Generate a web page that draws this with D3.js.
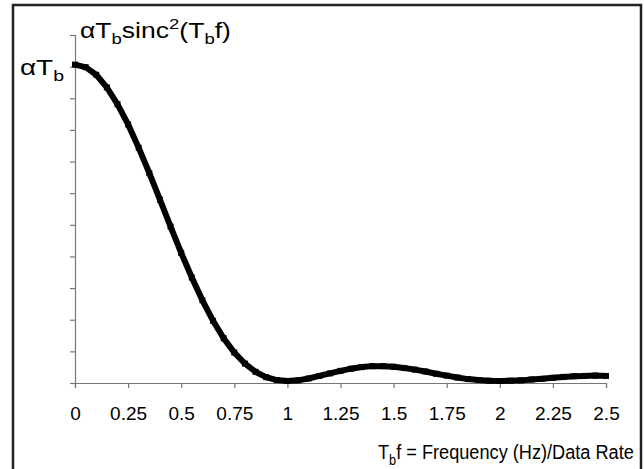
<!DOCTYPE html>
<html>
<head>
<meta charset="utf-8">
<script src="https://cdn.jsdelivr.net/npm/d3@7"></script>
<style>
  body { margin: 0; background: #fff; }
  svg text { font-family: "Liberation Sans", Arial, sans-serif; fill: #000; }
</style>
</head>
<body>
<svg id="chart" width="644" height="469"></svg>
<script>
// normalized frequency T_b f
const freq = [0, 0.05, 0.1, 0.15, 0.2, 0.25, 0.3, 0.35, 0.4, 0.45, 0.5, 0.55, 0.6, 0.65, 0.7,
  0.75, 0.8, 0.85, 0.9, 0.95, 1, 1.05, 1.1, 1.15, 1.2, 1.25, 1.3, 1.35, 1.4, 1.45, 1.5,
  1.55, 1.6, 1.65, 1.7, 1.75, 1.8, 1.85, 1.9, 1.95, 2, 2.05, 2.1, 2.15, 2.2, 2.25, 2.3,
  2.35, 2.4, 2.45, 2.5];
// power spectral density, in units of alpha*T_b
const psd = [1, 0.992, 0.968, 0.928, 0.875, 0.811, 0.737, 0.657, 0.573, 0.488, 0.405, 0.327,
  0.255, 0.190, 0.135, 0.090, 0.055, 0.029, 0.012, 0.003, 0, 0.002, 0.008, 0.016, 0.024,
  0.032, 0.039, 0.044, 0.047, 0.047, 0.045, 0.041, 0.036, 0.030, 0.023, 0.017, 0.011,
  0.006, 0.003, 0.001, 0, 0.001, 0.002, 0.005, 0.007, 0.010, 0.013, 0.015, 0.016, 0.017, 0.016];
const xTicks = [0, 0.25, 0.5, 0.75, 1, 1.25, 1.5, 1.75, 2, 2.25, 2.5];
const yTicks = [0, 0.1, 0.2, 0.3, 0.4, 0.5, 0.6, 0.7, 0.8, 0.9, 1, 1.1];

const svg = d3.select("#chart");
const m = { left: 75, right: 38, top: 35, bottom: 86 };
const W = 644, H = 469;

// outer frame
svg.append("rect")
  .attr("x", 13).attr("y", 5)
  .attr("width", 628).attr("height", 470)
  .attr("fill", "none").attr("stroke", "#222").attr("stroke-width", 2.5);

const x = d3.scaleLinear().domain([0, 2.5]).range([m.left, W - m.right]);
const y = d3.scaleLinear().domain([0, 1.1]).range([H - m.bottom, m.top]);

const xAxis = svg.append("g")
  .attr("transform", `translate(0,${y(0)})`)
  .call(d3.axisBottom(x).tickValues(xTicks).tickSize(5).tickPadding(19)
    .tickFormat(d => String(d)));
xAxis.selectAll("text").attr("font-size", 19);

const yAxis = svg.append("g")
  .attr("transform", `translate(${x(0)},0)`)
  .call(d3.axisLeft(y).tickValues(yTicks).tickSize(5).tickFormat(""));

[xAxis, yAxis].forEach(g => {
  g.select(".domain").attr("stroke", "#777").attr("stroke-width", 1.2);
  g.selectAll(".tick line").attr("stroke", "#777").attr("stroke-width", 1.2);
});

// curve: thick line with square markers
const pts = freq.map((f, i) => [f, psd[i]]);
const curve = svg.append("g");
curve.append("path")
  .datum(pts)
  .attr("fill", "none")
  .attr("stroke", "#000")
  .attr("stroke-width", 6)
  .attr("d", d3.line().x(d => x(d[0])).y(d => y(d[1]) - 2));
curve.selectAll("rect").data(pts).join("rect")
  .attr("x", d => x(d[0]) - 3)
  .attr("y", d => y(d[1]) - 2 - 3)
  .attr("width", 6).attr("height", 6)
  .attr("fill", "#000");

// text with subscripts / superscripts, fitted to a width
function richText(parts, size, xPos, yPos, width, anchor) {
  const g = svg.append("g");
  const t = g.append("text").attr("font-size", size);
  let shift = 0;
  parts.forEach(([s, kind]) => {
    const sp = t.append("tspan").text(s);
    const target = kind === "sub" ? 0.27 * size : kind === "sup" ? -0.4 * size : 0;
    if (target !== shift) sp.attr("dy", target - shift);
    shift = target;
    if (kind) sp.attr("font-size", size * 0.7);
  });
  const w = t.node().getBBox().width;
  const k = width / w;
  const x0 = anchor === "end" ? xPos - width : xPos;
  g.attr("transform", `translate(${x0},${yPos}) scale(${k},1)`);
  return g;
}

// y label at 1
richText([["\u03B1T"], ["b", "sub"]], 22, 64, y(1) + 8, 44, "end");

// title
richText([["\u03B1T"], ["b", "sub"], ["sinc"], ["2", "sup"], ["(T"], ["b", "sub"], ["f)"]],
  22, 80, 38, 151, "start");

// x label
richText([["T"], ["b", "sub"], ["f = Frequency (Hz)/Data Rate"]], 21, 634, 459, 256, "end");
</script>
</body>
</html>
